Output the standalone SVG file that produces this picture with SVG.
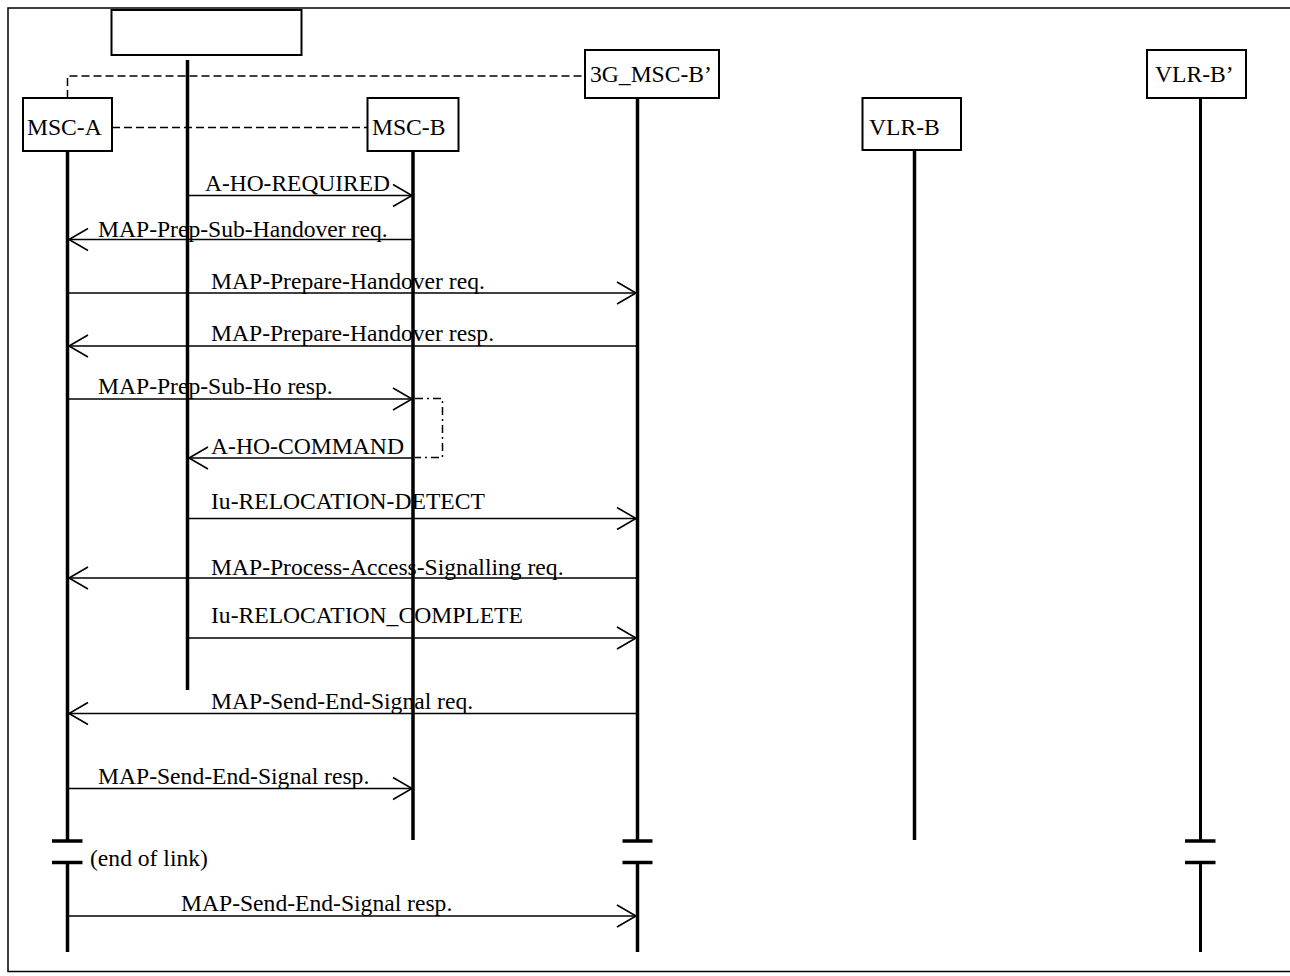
<svg xmlns="http://www.w3.org/2000/svg" width="1290" height="976" viewBox="0 0 1290 976">
<style>
.box{fill:#fff;stroke:#000;stroke-width:2}
.t{font-family:"Liberation Serif","Times New Roman",serif;font-size:23.6px;fill:#000}
.life{stroke:#000;stroke-width:3.5;fill:none}
.msg{stroke:#000;stroke-width:1.6;fill:none}
.head{stroke:#000;stroke-width:1.6;fill:none}
.dash{stroke:#000;stroke-width:1.5;fill:none;stroke-dasharray:8 4}
.dd{stroke:#000;stroke-width:1.5;fill:none;stroke-dasharray:8 4 2 4}
.brk{stroke:#000;stroke-width:3.5}
</style>
<rect x="0" y="0" width="1290" height="976" fill="#fff"/>
<rect x="8" y="8" width="1300" height="963.5" fill="none" stroke="#000" stroke-width="1.5"/>

<g id="connectors">
<path class="dash" d="M67.5,98 V76 H585"/>
<path class="dash" d="M112,127.5 H367"/>
<path class="dd" d="M415,398.5 H442.5 V457.5 H415"/>

<line class="msg" x1="187.5" y1="195.5" x2="413" y2="195.5"/>
<path class="head" d="M393,184.5 L412,195.5 L393,206.5"/>
<text class="t" x="205" y="190.5" textLength="185" lengthAdjust="spacingAndGlyphs">A-HO-REQUIRED</text>

<line class="msg" x1="413" y1="239.5" x2="68" y2="239.5"/>
<path class="head" d="M88,228.5 L69,239.5 L88,250.5"/>
<text class="t" x="98" y="236.5">MAP-Prep-Sub-Handover req.</text>

<line class="msg" x1="67.5" y1="293" x2="637" y2="293"/>
<path class="head" d="M617,282 L636,293 L617,304"/>
<text class="t" x="211" y="288.5">MAP-Prepare-Handover req.</text>

<line class="msg" x1="637" y1="346" x2="68" y2="346"/>
<path class="head" d="M88,335 L69,346 L88,357"/>
<text class="t" x="211" y="341">MAP-Prepare-Handover resp.</text>

<line class="msg" x1="67.5" y1="399" x2="413" y2="399"/>
<path class="head" d="M393,388 L412,399 L393,410"/>
<text class="t" x="98" y="393.5">MAP-Prep-Sub-Ho resp.</text>

<line class="msg" x1="413" y1="458" x2="188" y2="458"/>
<path class="head" d="M208,447 L189,458 L208,469"/>
<text class="t" x="211" y="454" textLength="193" lengthAdjust="spacingAndGlyphs">A-HO-COMMAND</text>

<line class="msg" x1="187.5" y1="518.5" x2="637" y2="518.5"/>
<path class="head" d="M617,507.5 L636,518.5 L617,529.5"/>
<text class="t" x="211" y="509">Iu-RELOCATION-DETECT</text>

<line class="msg" x1="637" y1="578" x2="68" y2="578"/>
<path class="head" d="M88,567 L69,578 L88,589"/>
<text class="t" x="211" y="575">MAP-Process-Access-Signalling req.</text>

<line class="msg" x1="187.5" y1="638" x2="637" y2="638"/>
<path class="head" d="M617,627 L636,638 L617,649"/>
<text class="t" x="211" y="623">Iu-RELOCATION_COMPLETE</text>

<line class="msg" x1="637" y1="713.5" x2="68" y2="713.5"/>
<path class="head" d="M88,702.5 L69,713.5 L88,724.5"/>
<text class="t" x="211" y="709">MAP-Send-End-Signal req.</text>

<line class="msg" x1="67.5" y1="788.5" x2="413" y2="788.5"/>
<path class="head" d="M393,777.5 L412,788.5 L393,799.5"/>
<text class="t" x="98" y="784">MAP-Send-End-Signal resp.</text>

<line class="msg" x1="67.5" y1="916" x2="637" y2="916"/>
<path class="head" d="M617,905 L636,916 L617,927"/>
<text class="t" x="181" y="911">MAP-Send-End-Signal resp.</text>
</g>

<g id="node-unlabelled">
<rect class="box" x="111.5" y="10" width="190" height="45"/>
<line class="life" x1="187.5" y1="60" x2="187.5" y2="690"/>
</g>

<g id="node-msc-a">
<rect class="box" x="23" y="98" width="89" height="53"/>
<text class="t" x="27" y="135">MSC-A</text>
<line class="life" x1="67.5" y1="151" x2="67.5" y2="841"/>
<line class="brk" x1="52" y1="841" x2="82.5" y2="841"/>
<line class="brk" x1="52" y1="862.5" x2="82.5" y2="862.5"/>
<line class="life" x1="67.5" y1="862.5" x2="67.5" y2="952"/>
<text class="t" x="90" y="866">(end of link)</text>
</g>

<g id="node-msc-b">
<rect class="box" x="367.5" y="98" width="91" height="53"/>
<text class="t" x="372" y="135">MSC-B</text>
<line class="life" x1="413" y1="151" x2="413" y2="840"/>
</g>

<g id="node-3g-msc-b">
<rect class="box" x="585" y="50" width="134" height="48"/>
<text class="t" x="590" y="82">3G_MSC-B’</text>
<line class="life" x1="637.5" y1="98" x2="637.5" y2="841"/>
<line class="brk" x1="622.5" y1="841" x2="652.5" y2="841"/>
<line class="brk" x1="622.5" y1="862.5" x2="652.5" y2="862.5"/>
<line class="life" x1="637.5" y1="862.5" x2="637.5" y2="952"/>
</g>

<g id="node-vlr-b">
<rect class="box" x="862.5" y="98" width="98.5" height="52"/>
<text class="t" x="869" y="135">VLR-B</text>
<line class="life" x1="914.5" y1="150" x2="914.5" y2="840"/>
</g>

<g id="node-vlr-b2">
<rect class="box" x="1147" y="50" width="99" height="48"/>
<text class="t" x="1155" y="82">VLR-B’</text>
<line class="life" x1="1200.5" y1="98" x2="1200.5" y2="841" style="stroke-width:3"/>
<line class="brk" x1="1185" y1="841" x2="1215.5" y2="841"/>
<line class="brk" x1="1185" y1="862.5" x2="1215.5" y2="862.5"/>
<line class="life" x1="1200.5" y1="862.5" x2="1200.5" y2="952" style="stroke-width:3"/>
</g>
</svg>
